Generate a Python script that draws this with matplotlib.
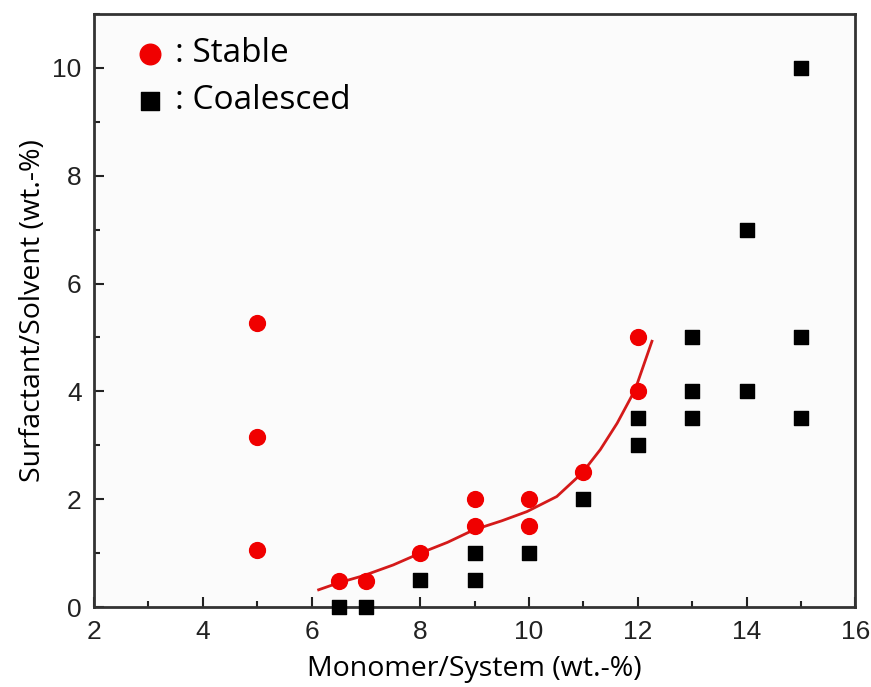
import matplotlib.pyplot as plt
from matplotlib.ticker import MultipleLocator

# stable points (red circles)
stable_x = [5, 5, 5, 6.5, 7, 8, 9, 9, 10, 10, 11, 12, 12]
stable_y = [5.27, 3.16, 1.05, 0.48, 0.48, 1.0, 2.0, 1.5, 2.0, 1.5, 2.5, 5.0, 4.0]

# coalesced points (black squares)
coal_x = [6.5, 7, 8, 9, 9, 10, 11, 12, 12, 13, 13, 13, 14, 14, 15, 15, 15]
coal_y = [0, 0, 0.5, 1.0, 0.5, 1.0, 2.0, 3.5, 3.0, 5.0, 4.0, 3.5, 7.0, 4.0, 10.0, 5.0, 3.5]

# boundary curve
curve_x = [6.13, 6.5, 6.95, 7.5, 8.0, 8.5, 8.98, 9.5, 9.96, 10.51, 10.97, 11.31, 11.62, 11.95, 12.26]
curve_y = [0.32, 0.45, 0.58, 0.78, 1.0, 1.2, 1.43, 1.6, 1.77, 2.05, 2.48, 2.92, 3.41, 4.03, 4.93]

fig = plt.figure(figsize=(8.71, 6.87), dpi=100)
fig.patch.set_facecolor('white')
ax = fig.add_axes([0.108, 0.1164, 0.874, 0.8632])
ax.set_facecolor('#fbfbfb')

ax.plot(curve_x, curve_y, color='#d41a1a', lw=2, zorder=2)
ax.scatter(stable_x, stable_y, s=130, marker='o', color='#f00000', zorder=3,
           clip_on=False, label=': Stable')
ax.scatter(coal_x, coal_y, s=110, marker='s', color='black', zorder=3,
           clip_on=False, label=': Coalesced')

ax.set_xlim(2, 16)
ax.set_ylim(0, 11)
ax.xaxis.set_major_locator(MultipleLocator(2))
ax.xaxis.set_minor_locator(MultipleLocator(1))
ax.yaxis.set_major_locator(MultipleLocator(2))
ax.yaxis.set_minor_locator(MultipleLocator(1))
ax.tick_params(which='both', direction='in', top=False, right=False,
               width=1.5, labelsize=19, colors='#222222', pad=9)
ax.tick_params(which='major', length=7)
ax.tick_params(which='minor', length=4)
for lab in ax.get_xticklabels() + ax.get_yticklabels():
    lab.set_family('Liberation Sans')
for s in ax.spines.values():
    s.set_linewidth(2)
    s.set_color('#333333')

ax.set_xlabel('Monomer/System (wt.-%)', fontsize=20.5, family='Open Sans', labelpad=8)
ax.set_ylabel('Surfactant/Solvent (wt.-%)', fontsize=20.5, family='Open Sans', labelpad=4)

leg = ax.legend(loc='upper left', frameon=False,
                prop={'family': 'Open Sans', 'size': 24},
                markerscale=1.3, handlelength=0.8, handletextpad=0.35,
                labelspacing=0.42, borderaxespad=0.3,
                bbox_to_anchor=(0.025, 1.0))

fig.savefig('out.png', dpi=100)
